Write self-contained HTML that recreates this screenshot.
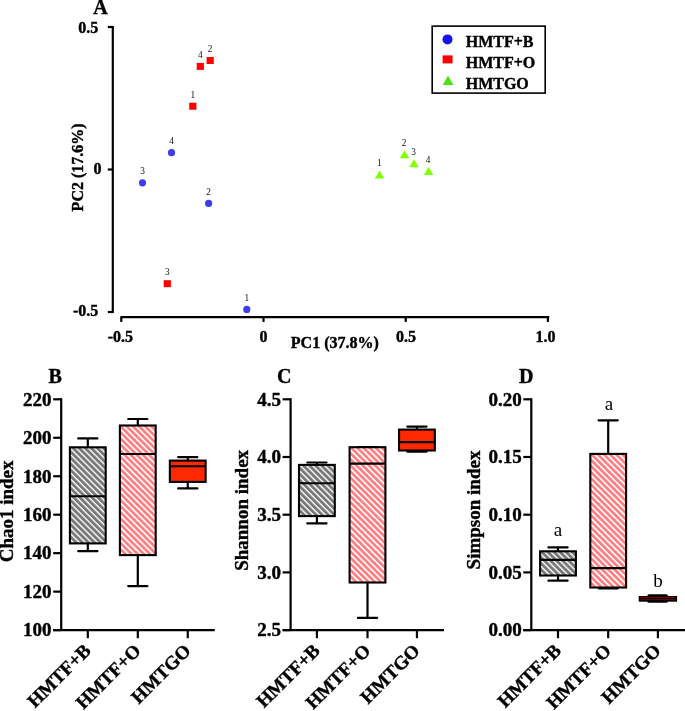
<!DOCTYPE html>
<html><head><meta charset="utf-8"><style>
html,body{margin:0;padding:0;background:#fff;width:685px;height:711px;overflow:hidden}
svg{display:block;will-change:transform}
text{font-family:"Liberation Serif",serif}
text[font-weight="bold"]{stroke:#000;stroke-width:0.4px;stroke-linejoin:round}
</style></head><body>
<svg width="685" height="711" viewBox="0 0 685 711">
<defs>
<pattern id="hg" patternUnits="userSpaceOnUse" width="4.3" height="10" patternTransform="rotate(-45)">
<rect width="4.3" height="10" fill="#fff"/><rect x="0" y="0" width="2.9" height="10" fill="#787878"/></pattern>
<pattern id="hp" patternUnits="userSpaceOnUse" width="4.35" height="10" patternTransform="rotate(-45)">
<rect width="4.35" height="10" fill="#fff"/><rect x="0" y="0" width="2.7" height="10" fill="#ff7f82"/></pattern>
</defs>
<rect width="685" height="711" fill="#fff"/>
<text x="93.30" y="13.70" font-size="20" font-weight="bold" text-anchor="start" fill="#000" >A</text>
<line x1="112.80" y1="25.90" x2="112.80" y2="313.10" stroke="#000" stroke-width="2.2" stroke-linecap="butt"/>
<line x1="107.80" y1="27.00" x2="112.80" y2="27.00" stroke="#000" stroke-width="2.2" stroke-linecap="butt"/>
<line x1="107.80" y1="169.50" x2="112.80" y2="169.50" stroke="#000" stroke-width="2.2" stroke-linecap="butt"/>
<line x1="107.80" y1="312.00" x2="112.80" y2="312.00" stroke="#000" stroke-width="2.2" stroke-linecap="butt"/>
<line x1="120.40" y1="317.10" x2="549.30" y2="317.10" stroke="#000" stroke-width="2.2" stroke-linecap="butt"/>
<line x1="121.30" y1="317.10" x2="121.30" y2="321.90" stroke="#000" stroke-width="2.2" stroke-linecap="butt"/>
<line x1="263.50" y1="317.10" x2="263.50" y2="321.90" stroke="#000" stroke-width="2.2" stroke-linecap="butt"/>
<line x1="405.70" y1="317.10" x2="405.70" y2="321.90" stroke="#000" stroke-width="2.2" stroke-linecap="butt"/>
<line x1="547.90" y1="317.10" x2="547.90" y2="321.90" stroke="#000" stroke-width="2.2" stroke-linecap="butt"/>
<text x="98.20" y="33.00" font-size="16" font-weight="bold" text-anchor="end" fill="#000" >0.5</text>
<text x="101.60" y="173.70" font-size="16" font-weight="bold" text-anchor="end" fill="#000" >0</text>
<text x="98.30" y="316.00" font-size="16" font-weight="bold" text-anchor="end" fill="#000" >-0.5</text>
<text x="120.40" y="342.30" font-size="16" font-weight="bold" text-anchor="middle" fill="#000" >-0.5</text>
<text x="263.50" y="342.30" font-size="16" font-weight="bold" text-anchor="middle" fill="#000" >0</text>
<text x="406.00" y="342.30" font-size="16" font-weight="bold" text-anchor="middle" fill="#000" >0.5</text>
<text x="545.40" y="342.30" font-size="16" font-weight="bold" text-anchor="middle" fill="#000" >1.0</text>
<text x="290.80" y="348.20" font-size="16" font-weight="bold" text-anchor="start" fill="#000" >PC1 (37.8%)</text>
<text transform="translate(82.9,167.4) rotate(-90)" font-size="16" font-weight="bold" text-anchor="middle">PC2 (17.6%)</text>
<rect x="432.2" y="26.1" width="113" height="67" fill="none" stroke="#000" stroke-width="1.6"/>
<circle cx="447.5" cy="39.4" r="5" fill="#1414f0"/>
<rect x="442.6" y="55.4" width="10" height="8" fill="#ff0000"/>
<polygon points="448,75.8 453.5,85 442.6,85" fill="#4be114"/>
<text x="465.70" y="47.10" font-size="16" font-weight="bold" text-anchor="start" fill="#000" >HMTF+B</text>
<text x="465.70" y="67.80" font-size="16" font-weight="bold" text-anchor="start" fill="#000" >HMTF+O</text>
<text x="465.70" y="89.00" font-size="16" font-weight="bold" text-anchor="start" fill="#000" >HMTGO</text>
<circle cx="246.8" cy="309.4" r="3.6" fill="#3c3cf5"/>
<text x="246.80" y="300.90" font-size="9.3" font-weight="normal" text-anchor="middle" fill="#111" >1</text>
<circle cx="208.6" cy="203.4" r="3.6" fill="#3c3cf5"/>
<text x="208.60" y="194.90" font-size="9.3" font-weight="normal" text-anchor="middle" fill="#111" >2</text>
<circle cx="142.5" cy="182.8" r="3.6" fill="#3c3cf5"/>
<text x="142.50" y="174.30" font-size="9.3" font-weight="normal" text-anchor="middle" fill="#111" >3</text>
<circle cx="171.5" cy="152.7" r="3.6" fill="#3c3cf5"/>
<text x="171.50" y="144.20" font-size="9.3" font-weight="normal" text-anchor="middle" fill="#111" >4</text>
<rect x="189.20" y="102.70" width="7.2" height="7" fill="#ff0000"/>
<text x="192.80" y="97.60" font-size="9.3" font-weight="normal" text-anchor="middle" fill="#111" >1</text>
<rect x="206.60" y="57.00" width="7.2" height="7" fill="#ff0000"/>
<text x="210.20" y="51.90" font-size="9.3" font-weight="normal" text-anchor="middle" fill="#111" >2</text>
<rect x="163.70" y="280.20" width="7.2" height="7" fill="#ff0000"/>
<text x="167.30" y="275.10" font-size="9.3" font-weight="normal" text-anchor="middle" fill="#111" >3</text>
<rect x="196.70" y="62.90" width="7.2" height="7" fill="#ff0000"/>
<text x="200.30" y="57.80" font-size="9.3" font-weight="normal" text-anchor="middle" fill="#111" >4</text>
<polygon points="379.60,170.60 384.30,178.60 374.90,178.60" fill="#80ff00"/>
<text x="379.30" y="166.40" font-size="9.3" font-weight="normal" text-anchor="middle" fill="#111" >1</text>
<polygon points="404.50,150.30 409.20,158.30 399.80,158.30" fill="#80ff00"/>
<text x="404.20" y="146.10" font-size="9.3" font-weight="normal" text-anchor="middle" fill="#111" >2</text>
<polygon points="414.00,159.20 418.70,167.20 409.30,167.20" fill="#80ff00"/>
<text x="413.70" y="155.00" font-size="9.3" font-weight="normal" text-anchor="middle" fill="#111" >3</text>
<polygon points="428.50,167.10 433.20,175.10 423.80,175.10" fill="#80ff00"/>
<text x="428.20" y="162.90" font-size="9.3" font-weight="normal" text-anchor="middle" fill="#111" >4</text>
<text x="48.40" y="382.60" font-size="20" font-weight="bold" text-anchor="start" fill="#000" >B</text>
<line x1="61.20" y1="398.20" x2="61.20" y2="630.10" stroke="#000" stroke-width="2.2" stroke-linecap="butt"/>
<line x1="53.20" y1="399.30" x2="61.20" y2="399.30" stroke="#000" stroke-width="2.2" stroke-linecap="butt"/>
<text x="51.60" y="405.60" font-size="19" font-weight="bold" text-anchor="end" fill="#000" >220</text>
<line x1="53.20" y1="437.77" x2="61.20" y2="437.77" stroke="#000" stroke-width="2.2" stroke-linecap="butt"/>
<text x="51.60" y="444.07" font-size="19" font-weight="bold" text-anchor="end" fill="#000" >200</text>
<line x1="53.20" y1="476.23" x2="61.20" y2="476.23" stroke="#000" stroke-width="2.2" stroke-linecap="butt"/>
<text x="51.60" y="482.53" font-size="19" font-weight="bold" text-anchor="end" fill="#000" >180</text>
<line x1="53.20" y1="514.70" x2="61.20" y2="514.70" stroke="#000" stroke-width="2.2" stroke-linecap="butt"/>
<text x="51.60" y="521.00" font-size="19" font-weight="bold" text-anchor="end" fill="#000" >160</text>
<line x1="53.20" y1="553.17" x2="61.20" y2="553.17" stroke="#000" stroke-width="2.2" stroke-linecap="butt"/>
<text x="51.60" y="559.47" font-size="19" font-weight="bold" text-anchor="end" fill="#000" >140</text>
<line x1="53.20" y1="591.63" x2="61.20" y2="591.63" stroke="#000" stroke-width="2.2" stroke-linecap="butt"/>
<text x="51.60" y="597.93" font-size="19" font-weight="bold" text-anchor="end" fill="#000" >120</text>
<line x1="53.20" y1="630.10" x2="61.20" y2="630.10" stroke="#000" stroke-width="2.2" stroke-linecap="butt"/>
<text x="51.60" y="636.40" font-size="19" font-weight="bold" text-anchor="end" fill="#000" >100</text>
<line x1="53.20" y1="630.10" x2="214.80" y2="630.10" stroke="#000" stroke-width="2.2" stroke-linecap="butt"/>
<text transform="translate(13.0,511.4) rotate(-90)" font-size="19" font-weight="bold" text-anchor="middle">Chao1 index</text>
<line x1="87.80" y1="630.10" x2="87.80" y2="638.20" stroke="#000" stroke-width="2.2" stroke-linecap="butt"/>
<line x1="87.80" y1="438.40" x2="87.80" y2="447.30" stroke="#000" stroke-width="2.2" stroke-linecap="butt"/>
<line x1="87.80" y1="543.40" x2="87.80" y2="551.20" stroke="#000" stroke-width="2.2" stroke-linecap="butt"/>
<line x1="78.20" y1="438.40" x2="97.40" y2="438.40" stroke="#000" stroke-width="2.2" stroke-linecap="round"/>
<line x1="78.20" y1="551.20" x2="97.40" y2="551.20" stroke="#000" stroke-width="2.2" stroke-linecap="round"/>
<rect x="69.90" y="447.30" width="35.80" height="96.10" fill="url(#hg)" stroke="#000" stroke-width="2.1"/>
<line x1="69.90" y1="496.20" x2="105.70" y2="496.20" stroke="#000" stroke-width="2.1" stroke-linecap="butt"/>
<text transform="translate(91.90,651.7) rotate(-45)" font-size="19" font-weight="bold" text-anchor="end">HMTF+B</text>
<line x1="137.80" y1="630.10" x2="137.80" y2="638.20" stroke="#000" stroke-width="2.2" stroke-linecap="butt"/>
<line x1="137.80" y1="419.00" x2="137.80" y2="425.50" stroke="#000" stroke-width="2.2" stroke-linecap="butt"/>
<line x1="137.80" y1="555.10" x2="137.80" y2="586.10" stroke="#000" stroke-width="2.2" stroke-linecap="butt"/>
<line x1="128.20" y1="419.00" x2="147.40" y2="419.00" stroke="#000" stroke-width="2.2" stroke-linecap="round"/>
<line x1="128.20" y1="586.10" x2="147.40" y2="586.10" stroke="#000" stroke-width="2.2" stroke-linecap="round"/>
<rect x="119.90" y="425.50" width="35.80" height="129.60" fill="url(#hp)" stroke="#000" stroke-width="2.1"/>
<line x1="119.90" y1="454.00" x2="155.70" y2="454.00" stroke="#000" stroke-width="2.1" stroke-linecap="butt"/>
<text transform="translate(141.90,651.7) rotate(-45)" font-size="19" font-weight="bold" text-anchor="end">HMTF+O</text>
<line x1="187.75" y1="630.10" x2="187.75" y2="638.20" stroke="#000" stroke-width="2.2" stroke-linecap="butt"/>
<line x1="187.75" y1="457.10" x2="187.75" y2="460.60" stroke="#000" stroke-width="2.2" stroke-linecap="butt"/>
<line x1="187.75" y1="481.90" x2="187.75" y2="488.40" stroke="#000" stroke-width="2.2" stroke-linecap="butt"/>
<line x1="178.15" y1="457.10" x2="197.35" y2="457.10" stroke="#000" stroke-width="2.2" stroke-linecap="round"/>
<line x1="178.15" y1="488.40" x2="197.35" y2="488.40" stroke="#000" stroke-width="2.2" stroke-linecap="round"/>
<rect x="169.85" y="460.60" width="35.80" height="21.30" fill="#ff2800" stroke="#000" stroke-width="2.1"/>
<line x1="169.85" y1="466.20" x2="205.65" y2="466.20" stroke="#000" stroke-width="2.1" stroke-linecap="butt"/>
<text transform="translate(191.85,651.7) rotate(-45)" font-size="19" font-weight="bold" text-anchor="end">HMTGO</text>
<text x="277.00" y="382.60" font-size="20" font-weight="bold" text-anchor="start" fill="#000" >C</text>
<line x1="290.60" y1="398.20" x2="290.60" y2="630.10" stroke="#000" stroke-width="2.2" stroke-linecap="butt"/>
<line x1="282.60" y1="399.30" x2="290.60" y2="399.30" stroke="#000" stroke-width="2.2" stroke-linecap="butt"/>
<text x="281.00" y="405.60" font-size="19" font-weight="bold" text-anchor="end" fill="#000" >4.5</text>
<line x1="282.60" y1="457.00" x2="290.60" y2="457.00" stroke="#000" stroke-width="2.2" stroke-linecap="butt"/>
<text x="281.00" y="463.30" font-size="19" font-weight="bold" text-anchor="end" fill="#000" >4.0</text>
<line x1="282.60" y1="514.70" x2="290.60" y2="514.70" stroke="#000" stroke-width="2.2" stroke-linecap="butt"/>
<text x="281.00" y="521.00" font-size="19" font-weight="bold" text-anchor="end" fill="#000" >3.5</text>
<line x1="282.60" y1="572.40" x2="290.60" y2="572.40" stroke="#000" stroke-width="2.2" stroke-linecap="butt"/>
<text x="281.00" y="578.70" font-size="19" font-weight="bold" text-anchor="end" fill="#000" >3.0</text>
<line x1="282.60" y1="630.10" x2="290.60" y2="630.10" stroke="#000" stroke-width="2.2" stroke-linecap="butt"/>
<text x="281.00" y="636.40" font-size="19" font-weight="bold" text-anchor="end" fill="#000" >2.5</text>
<line x1="282.60" y1="630.10" x2="444.00" y2="630.10" stroke="#000" stroke-width="2.2" stroke-linecap="butt"/>
<text transform="translate(247.8,510.4) rotate(-90)" font-size="19" font-weight="bold" text-anchor="middle">Shannon index</text>
<line x1="316.90" y1="630.10" x2="316.90" y2="638.20" stroke="#000" stroke-width="2.2" stroke-linecap="butt"/>
<line x1="316.90" y1="462.50" x2="316.90" y2="464.90" stroke="#000" stroke-width="2.2" stroke-linecap="butt"/>
<line x1="316.90" y1="516.10" x2="316.90" y2="523.40" stroke="#000" stroke-width="2.2" stroke-linecap="butt"/>
<line x1="307.30" y1="462.50" x2="326.50" y2="462.50" stroke="#000" stroke-width="2.2" stroke-linecap="round"/>
<line x1="307.30" y1="523.40" x2="326.50" y2="523.40" stroke="#000" stroke-width="2.2" stroke-linecap="round"/>
<rect x="299.00" y="464.90" width="35.80" height="51.20" fill="url(#hg)" stroke="#000" stroke-width="2.1"/>
<line x1="299.00" y1="483.30" x2="334.80" y2="483.30" stroke="#000" stroke-width="2.1" stroke-linecap="butt"/>
<text transform="translate(321.00,651.7) rotate(-45)" font-size="19" font-weight="bold" text-anchor="end">HMTF+B</text>
<line x1="367.50" y1="630.10" x2="367.50" y2="638.20" stroke="#000" stroke-width="2.2" stroke-linecap="butt"/>
<line x1="367.50" y1="447.20" x2="367.50" y2="447.20" stroke="#000" stroke-width="2.2" stroke-linecap="butt"/>
<line x1="367.50" y1="582.50" x2="367.50" y2="617.80" stroke="#000" stroke-width="2.2" stroke-linecap="butt"/>
<line x1="357.90" y1="447.20" x2="377.10" y2="447.20" stroke="#000" stroke-width="2.2" stroke-linecap="round"/>
<line x1="357.90" y1="617.80" x2="377.10" y2="617.80" stroke="#000" stroke-width="2.2" stroke-linecap="round"/>
<rect x="349.60" y="447.20" width="35.80" height="135.30" fill="url(#hp)" stroke="#000" stroke-width="2.1"/>
<line x1="349.60" y1="463.60" x2="385.40" y2="463.60" stroke="#000" stroke-width="2.1" stroke-linecap="butt"/>
<text transform="translate(371.60,651.7) rotate(-45)" font-size="19" font-weight="bold" text-anchor="end">HMTF+O</text>
<line x1="416.95" y1="630.10" x2="416.95" y2="638.20" stroke="#000" stroke-width="2.2" stroke-linecap="butt"/>
<line x1="416.95" y1="426.60" x2="416.95" y2="429.60" stroke="#000" stroke-width="2.2" stroke-linecap="butt"/>
<line x1="416.95" y1="450.50" x2="416.95" y2="451.70" stroke="#000" stroke-width="2.2" stroke-linecap="butt"/>
<line x1="407.35" y1="426.60" x2="426.55" y2="426.60" stroke="#000" stroke-width="2.2" stroke-linecap="round"/>
<line x1="407.35" y1="451.70" x2="426.55" y2="451.70" stroke="#000" stroke-width="2.2" stroke-linecap="round"/>
<rect x="399.05" y="429.60" width="35.80" height="20.90" fill="#ff2800" stroke="#000" stroke-width="2.1"/>
<line x1="399.05" y1="442.10" x2="434.85" y2="442.10" stroke="#000" stroke-width="2.1" stroke-linecap="butt"/>
<text transform="translate(421.05,651.7) rotate(-45)" font-size="19" font-weight="bold" text-anchor="end">HMTGO</text>
<text x="519.00" y="382.60" font-size="20" font-weight="bold" text-anchor="start" fill="#000" >D</text>
<line x1="531.30" y1="398.20" x2="531.30" y2="630.10" stroke="#000" stroke-width="2.2" stroke-linecap="butt"/>
<line x1="523.30" y1="399.30" x2="531.30" y2="399.30" stroke="#000" stroke-width="2.2" stroke-linecap="butt"/>
<text x="521.70" y="405.60" font-size="19" font-weight="bold" text-anchor="end" fill="#000" >0.20</text>
<line x1="523.30" y1="457.00" x2="531.30" y2="457.00" stroke="#000" stroke-width="2.2" stroke-linecap="butt"/>
<text x="521.70" y="463.30" font-size="19" font-weight="bold" text-anchor="end" fill="#000" >0.15</text>
<line x1="523.30" y1="514.70" x2="531.30" y2="514.70" stroke="#000" stroke-width="2.2" stroke-linecap="butt"/>
<text x="521.70" y="521.00" font-size="19" font-weight="bold" text-anchor="end" fill="#000" >0.10</text>
<line x1="523.30" y1="572.40" x2="531.30" y2="572.40" stroke="#000" stroke-width="2.2" stroke-linecap="butt"/>
<text x="521.70" y="578.70" font-size="19" font-weight="bold" text-anchor="end" fill="#000" >0.05</text>
<line x1="523.30" y1="630.10" x2="531.30" y2="630.10" stroke="#000" stroke-width="2.2" stroke-linecap="butt"/>
<text x="521.70" y="636.40" font-size="19" font-weight="bold" text-anchor="end" fill="#000" >0.00</text>
<line x1="523.30" y1="630.10" x2="686.00" y2="630.10" stroke="#000" stroke-width="2.2" stroke-linecap="butt"/>
<text transform="translate(479.8,510.0) rotate(-90)" font-size="19" font-weight="bold" text-anchor="middle">Simpson index</text>
<line x1="558.00" y1="630.10" x2="558.00" y2="638.20" stroke="#000" stroke-width="2.2" stroke-linecap="butt"/>
<line x1="558.00" y1="547.40" x2="558.00" y2="551.30" stroke="#000" stroke-width="2.2" stroke-linecap="butt"/>
<line x1="558.00" y1="575.50" x2="558.00" y2="580.70" stroke="#000" stroke-width="2.2" stroke-linecap="butt"/>
<line x1="548.40" y1="547.40" x2="567.60" y2="547.40" stroke="#000" stroke-width="2.2" stroke-linecap="round"/>
<line x1="548.40" y1="580.70" x2="567.60" y2="580.70" stroke="#000" stroke-width="2.2" stroke-linecap="round"/>
<rect x="540.10" y="551.30" width="35.80" height="24.20" fill="url(#hg)" stroke="#000" stroke-width="2.1"/>
<line x1="540.10" y1="559.90" x2="575.90" y2="559.90" stroke="#000" stroke-width="2.1" stroke-linecap="butt"/>
<text transform="translate(562.10,651.7) rotate(-45)" font-size="19" font-weight="bold" text-anchor="end">HMTF+B</text>
<line x1="608.20" y1="630.10" x2="608.20" y2="638.20" stroke="#000" stroke-width="2.2" stroke-linecap="butt"/>
<line x1="608.20" y1="420.30" x2="608.20" y2="453.90" stroke="#000" stroke-width="2.2" stroke-linecap="butt"/>
<line x1="608.20" y1="587.50" x2="608.20" y2="588.30" stroke="#000" stroke-width="2.2" stroke-linecap="butt"/>
<line x1="598.60" y1="420.30" x2="617.80" y2="420.30" stroke="#000" stroke-width="2.2" stroke-linecap="round"/>
<line x1="598.60" y1="588.30" x2="617.80" y2="588.30" stroke="#000" stroke-width="2.2" stroke-linecap="round"/>
<rect x="590.30" y="453.90" width="35.80" height="133.60" fill="url(#hp)" stroke="#000" stroke-width="2.1"/>
<line x1="590.30" y1="568.10" x2="626.10" y2="568.10" stroke="#000" stroke-width="2.1" stroke-linecap="butt"/>
<text transform="translate(612.30,651.7) rotate(-45)" font-size="19" font-weight="bold" text-anchor="end">HMTF+O</text>
<rect x="647.4" y="594.2" width="20.5" height="8.5" rx="1.5" fill="#000"/>
<rect x="638.7" y="596.0" width="38.4" height="5.7" fill="#000"/>
<rect x="640.3" y="597.0" width="35.2" height="1.0" fill="#780000"/>
<rect x="640.3" y="599.2" width="35.2" height="1.0" fill="#780000"/>
<line x1="657.90" y1="630.10" x2="657.90" y2="638.20" stroke="#000" stroke-width="2.2" stroke-linecap="butt"/>
<text transform="translate(662.0,651.7) rotate(-45)" font-size="19" font-weight="bold" text-anchor="end">HMTGO</text>
<text x="558.00" y="536.00" font-size="19" font-weight="normal" text-anchor="middle" fill="#000" >a</text>
<text x="609.00" y="409.50" font-size="19" font-weight="normal" text-anchor="middle" fill="#000" >a</text>
<text x="657.90" y="587.30" font-size="19" font-weight="normal" text-anchor="middle" fill="#000" >b</text>
</svg></body></html>
